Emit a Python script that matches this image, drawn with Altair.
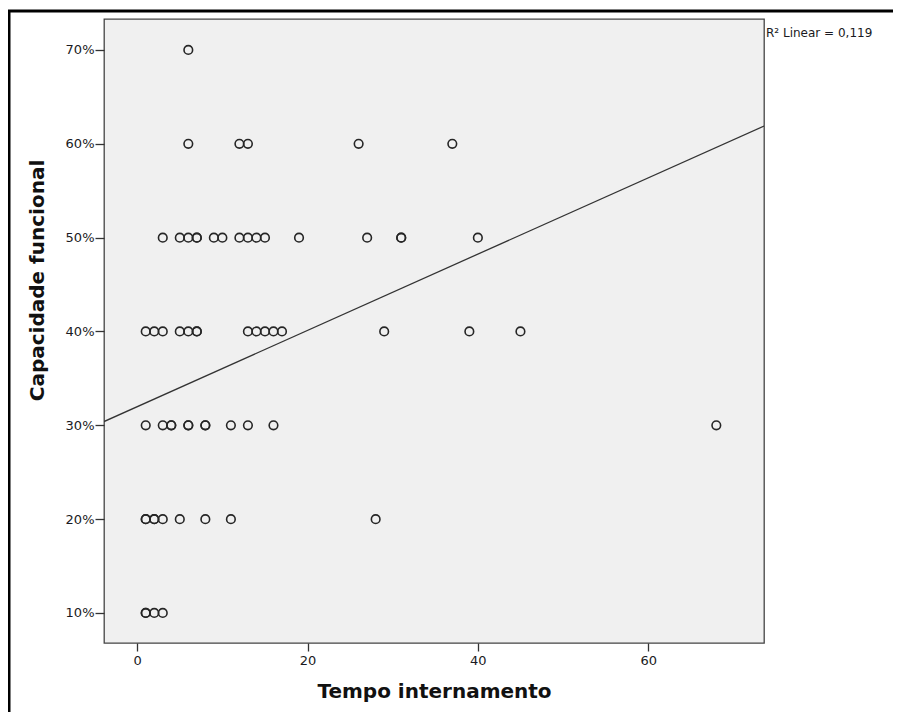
import altair as alt
import pandas as pd

# Capacidade funcional levels (%) and Tempo internamento values observed at each level
levels = [70, 60, 50, 40, 30, 20, 10]
tempo_70 = [6]
tempo_60 = [6, 12, 13, 26, 37]
tempo_50 = [3, 5, 6, 7, 7, 9, 10, 12, 13, 14, 15, 19, 27, 31, 31, 40]
tempo_40 = [1, 2, 3, 5, 6, 7, 7, 13, 14, 15, 16, 17, 29, 39, 45]
tempo_30 = [1, 3, 4, 4, 6, 6, 8, 8, 11, 13, 16, 68]
tempo_20 = [1, 1, 2, 2, 3, 5, 8, 11, 28]
tempo_10 = [1, 1, 2, 3]

# fitted linear line (end points at the axis limits)
fit_tempo = [-3.9, 73.6]
fit_cap = [30.4, 61.9]

x_ticks = [0, 20, 40, 60]
y_ticks = [10, 20, 30, 40, 50, 60, 70]
x_domain = [-3.9, 73.6]
y_domain = [6.8, 73.3]
r2_label = "R² Linear = 0,119"

groups = [tempo_70, tempo_60, tempo_50, tempo_40, tempo_30, tempo_20, tempo_10]
rows = []
for lvl, vals in zip(levels, groups):
    for v in vals:
        rows.append({"tempo": v, "cap": lvl})
df = pd.DataFrame(rows)
fit_df = pd.DataFrame({"tempo": fit_tempo, "cap": fit_cap})

FONT = "DejaVu Sans"

xs = alt.Scale(domain=x_domain, nice=False, zero=False)
ys = alt.Scale(domain=y_domain, nice=False, zero=False)

points = alt.Chart(df).mark_point(shape="circle", filled=False, size=74, strokeWidth=1.6,
                                  color="#262626", opacity=1).encode(
    x=alt.X("tempo:Q", scale=xs,
            axis=alt.Axis(values=x_ticks, title="Tempo internamento", grid=False, domain=False,
                          tickSize=8, tickColor="#333", tickWidth=1.3, labelFontSize=13,
                          labelColor="#1a1a22", labelFont=FONT, labelPadding=3,
                          titleFont=FONT, titleFontSize=20, titleFontWeight="bold",
                          titleColor="#111", titlePadding=14)),
    y=alt.Y("cap:Q", scale=ys,
            axis=alt.Axis(values=y_ticks, labelExpr="datum.value + '%'", title="Capacidade funcional",
                          grid=False, domain=False, tickSize=9, tickColor="#333", tickWidth=1.3,
                          labelFontSize=13, labelColor="#1a1a22", labelFont=FONT, labelPadding=1,
                          titleFont=FONT, titleFontSize=20, titleFontWeight="bold",
                          titleColor="#111", titleX=-57, titleY=261, titleBaseline="bottom",
                          titleAlign="center", titleAngle=270)),
)

line = alt.Chart(fit_df).mark_line(color="#333", strokeWidth=1.3, clip=True).encode(
    x=alt.X("tempo:Q", scale=xs), y=alt.Y("cap:Q", scale=ys)
)

label = alt.Chart(pd.DataFrame({"t": [r2_label]})).mark_text(
    align="left", baseline="middle", fontSize=12, font=FONT, color="#1a1a22"
).encode(x=alt.value(662), y=alt.value(14), text="t:N")

frame = alt.Chart(pd.DataFrame({"a": [0]})).mark_rect(
    fill="transparent", stroke="black", strokeWidth=3
).encode(x=alt.value(-95), x2=alt.value(1000), y=alt.value(-8), y2=alt.value(1000))

chart = alt.layer(frame, points, line, label).properties(
    width=660, height=624,
    autosize=alt.AutoSizeParams(type="none"),
    padding={"left": 96, "top": 11, "right": 129, "bottom": 69},
).configure_view(fill="#f0f0f0", stroke="#444", strokeWidth=1.3)

chart.save("out.html", embed_options={"renderer": "svg", "actions": False})
